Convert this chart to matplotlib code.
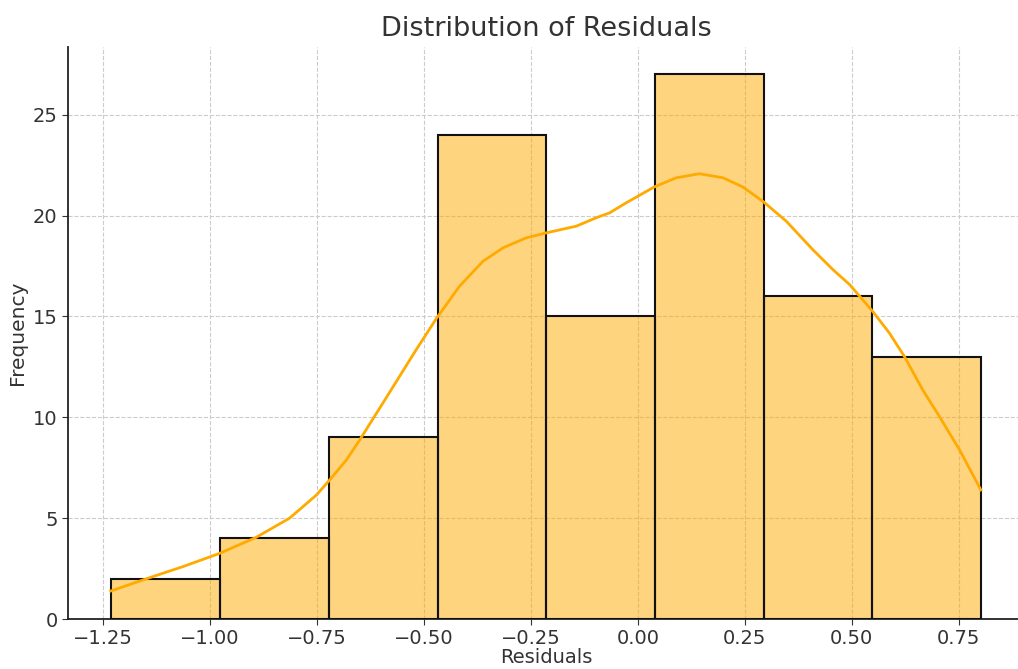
import numpy as np
import matplotlib.pyplot as plt

# histogram bins
bin_edges = [-1.2304, -0.9763, -0.7222, -0.4680, -0.2139, 0.0402, 0.2943, 0.5484, 0.8025]
counts = [2, 4, 9, 24, 15, 27, 16, 13]

# kde curve, sampled by eye
kde_x = [-1.232, -1.141, -1.063, -0.977, -0.892, -0.814, -0.751, -0.720, -0.681,
         -0.650, -0.596, -0.518, -0.470, -0.417, -0.362, -0.315, -0.261, -0.214,
         -0.144, -0.097, -0.066, -0.027, 0.039, 0.090, 0.144, 0.199, 0.245,
         0.292, 0.347, 0.409, 0.456, 0.495, 0.549, 0.588, 0.623, 0.666,
         0.705, 0.752, 0.802]
kde_y = [1.39, 2.05, 2.60, 3.26, 4.05, 5.00, 6.15, 6.90, 7.89,
         8.88, 10.70, 13.35, 14.92, 16.49, 17.73, 18.40, 18.89, 19.14,
         19.47, 19.89, 20.13, 20.63, 21.42, 21.87, 22.07, 21.87, 21.42,
         20.71, 19.72, 18.31, 17.32, 16.58, 15.25, 14.18, 13.02, 11.36,
         10.04, 8.39, 6.40]

xticks = [-1.25, -1.00, -0.75, -0.50, -0.25, 0.00, 0.25, 0.50, 0.75]
yticks = [0, 5, 10, 15, 20, 25]

txt = '#333333'
plt.rcParams['font.family'] = ['DejaVu Sans']

fig = plt.figure(figsize=(10.18, 6.69), dpi=100)
ax = fig.add_axes([0.0668, 0.0747, 0.94, 0.855])

widths = np.diff(bin_edges)
ax.bar(bin_edges[:-1], counts, width=widths, align='edge',
       color='#FFAA00', alpha=0.5, edgecolor='none', zorder=2)
ax.bar(bin_edges[:-1], counts, width=widths, align='edge',
       facecolor='none', edgecolor='#111111', linewidth=1.5, zorder=3)
ax.plot(kde_x, kde_y, color='#FFAA00', linewidth=2, zorder=4,
        solid_joinstyle='round')

ax.set_xlim(-1.332, 0.905)
ax.set_ylim(0, 28.35)
ax.set_xticks(xticks)
ax.set_xticklabels([f'{t:.2f}'.replace('-', '\u2212') for t in xticks])
ax.set_yticks(yticks)

ax.grid(True, linestyle='--', color='#cccccc', linewidth=0.8, zorder=0)
ax.set_axisbelow(True)
for s in ['top', 'right']:
    ax.spines[s].set_visible(False)
for s in ['left', 'bottom']:
    ax.spines[s].set_color('#222222')
    ax.spines[s].set_linewidth(1.3)

ax.tick_params(labelsize=14, colors=txt, length=4)
ax.set_title('Distribution of Residuals', fontsize=19.5, color=txt, pad=8)
ax.set_xlabel('Residuals', fontsize=14, color=txt, labelpad=0)
ax.set_ylabel('Frequency', fontsize=14.5, color=txt, labelpad=4)

fig.savefig('out.png', dpi=100)
